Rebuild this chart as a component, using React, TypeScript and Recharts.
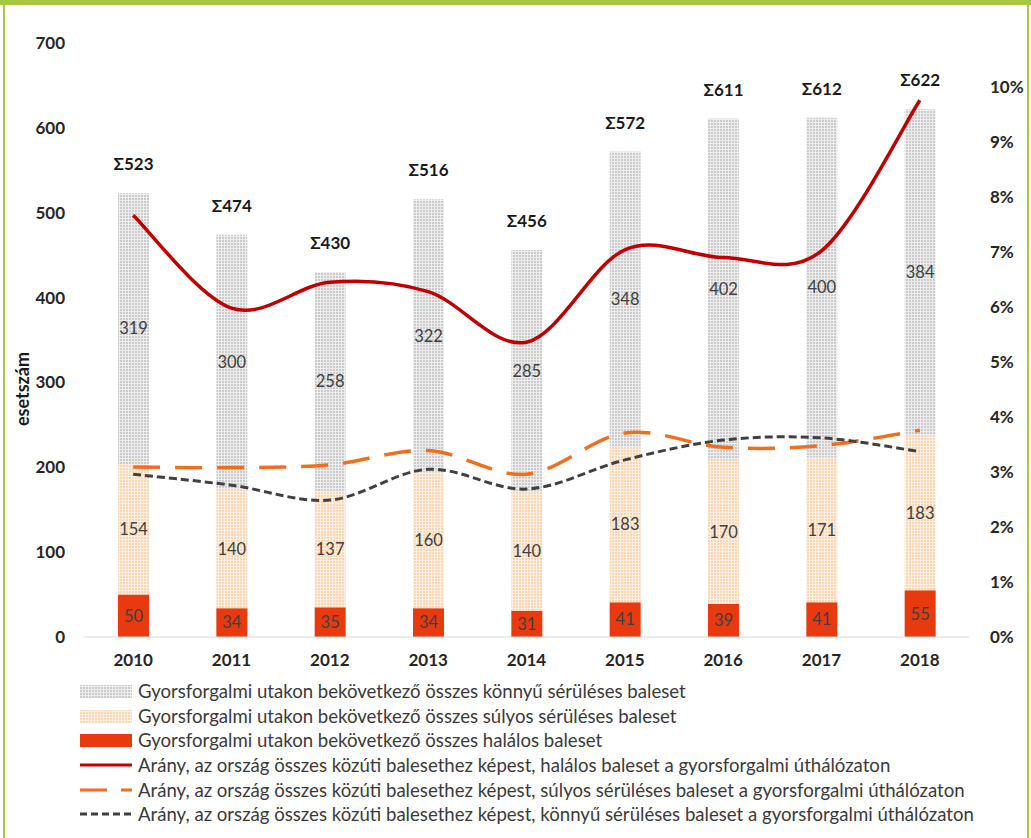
import React from "react";
import {
  ComposedChart,
  Bar,
  Line,
  XAxis,
  YAxis,
  LabelList,
} from "recharts";

const years = ["2010", "2011", "2012", "2013", "2014", "2015", "2016", "2017", "2018"];
const fatal = [50, 34, 35, 34, 31, 41, 39, 41, 55];
const serious = [154, 140, 137, 160, 140, 183, 170, 171, 183];
const light = [319, 300, 258, 322, 285, 348, 402, 400, 384];
const totals = [523, 474, 430, 516, 456, 572, 611, 612, 622];

// ratios, % of all road accidents in the country
const fatalRate = [7.67, 5.98, 6.45, 6.28, 5.36, 7.04, 6.9, 7.02, 9.76];
const seriousRate = [3.09, 3.08, 3.13, 3.39, 2.96, 3.71, 3.45, 3.48, 3.76];
const lightRate = [2.96, 2.76, 2.49, 3.05, 2.69, 3.22, 3.58, 3.62, 3.37];

const leftTicks = [0, 100, 200, 300, 400, 500, 600, 700];
const rightTicks = [0, 1, 2, 3, 4, 5, 6, 7, 8, 9, 10];

const legendNames = [
  "Gyorsforgalmi utakon bekövetkező összes könnyű sérüléses baleset",
  "Gyorsforgalmi utakon bekövetkező összes súlyos sérüléses baleset",
  "Gyorsforgalmi utakon bekövetkező összes halálos baleset",
  "Arány, az ország összes közúti balesethez képest, halálos baleset a gyorsforgalmi úthálózaton",
  "Arány, az ország összes közúti balesethez képest, súlyos sérüléses baleset a gyorsforgalmi úthálózaton",
  "Arány, az ország összes közúti balesethez képest, könnyű sérüléses baleset a gyorsforgalmi úthálózaton",
];

const data = years.map((year, i) => ({
  year,
  fatal: fatal[i],
  serious: serious[i],
  light: light[i],
  total: totals[i],
  fatalRate: fatalRate[i],
  seriousRate: seriousRate[i],
  lightRate: lightRate[i],
}));

const FONT = "Lato, 'Open Sans', sans-serif";
const GREEN = "#a5c83f";
const RED = "#e83a0e";
const DARKRED = "#c00000";
const ORANGE = "#f26d1c";
const DARK = "#404040";

// Excel style smoothed line (cardinal spline through the points)
const excelCurve = (context: any) => {
  let pts: number[][] = [];
  return {
    areaStart() {},
    areaEnd() {},
    lineStart() {
      pts = [];
    },
    point(x: number, y: number) {
      pts.push([+x, +y]);
    },
    lineEnd() {
      if (!pts.length) return;
      context.moveTo(pts[0][0], pts[0][1]);
      for (let i = 0; i < pts.length - 1; i++) {
        const p0 = pts[i - 1] || pts[i];
        const p1 = pts[i];
        const p2 = pts[i + 1];
        const p3 = pts[i + 2] || p2;
        context.bezierCurveTo(
          p1[0] + (p2[0] - p0[0]) / 6,
          p1[1] + (p2[1] - p0[1]) / 6,
          p2[0] - (p3[0] - p1[0]) / 6,
          p2[1] - (p3[1] - p1[1]) / 6,
          p2[0],
          p2[1]
        );
      }
    },
  };
};

const Patterns = () => (
  <defs>
    <pattern id="patLight" width="3" height="3" patternUnits="userSpaceOnUse">
      <rect width="3" height="3" fill="#ededed" />
      <rect width="2" height="2" fill="#cbcbcb" />
    </pattern>
    <pattern id="patSerious" width="3" height="3" patternUnits="userSpaceOnUse">
      <rect width="3" height="3" fill="#fdeedf" />
      <rect width="2" height="2" fill="#f9d6b4" />
    </pattern>
  </defs>
);

const legendIcon = (i: number) => {
  if (i === 0) return <rect x={0} y={4} width={52} height={13} fill="url(#patLight)" />;
  if (i === 1) return <rect x={0} y={4} width={52} height={13} fill="url(#patSerious)" />;
  if (i === 2) return <rect x={0} y={4} width={52} height={13} fill={RED} />;
  if (i === 3) return <line x1={0} x2={52} y1={10} y2={10} stroke={DARKRED} strokeWidth={3} />;
  if (i === 4)
    return (
      <line x1={0} x2={52} y1={10} y2={10} stroke={ORANGE} strokeWidth={3} strokeDasharray="27 14" />
    );
  return <line x1={0} x2={52} y1={10} y2={10} stroke={DARK} strokeWidth={3} strokeDasharray="7 4" />;
};

export default function App() {
  return (
    <div style={{ position: "absolute", left: 0, top: 0, width: 1031, height: 838, background: "#fff", fontFamily: FONT }}>
      <div style={{ position: "absolute", left: 0, top: 0, width: 1031, height: 5, background: GREEN }} />
      <div style={{ position: "absolute", left: 3, top: 0, width: 2, height: 838, background: GREEN }} />
      <div style={{ position: "absolute", left: 1027, top: 0, width: 2, height: 838, background: GREEN }} />

      <div style={{ position: "absolute", left: 0, top: 0 }}>
        <ComposedChart
          width={1031}
          height={680}
          data={data}
          margin={{ top: 43, right: 0, bottom: 3, left: 0 }}
          barSize={31}
        >
          <Patterns />
          <XAxis
            dataKey="year"
            axisLine={{ stroke: "#d9d9d9", strokeWidth: 1 }}
            tickLine={false}
            tickSize={0}
            tickMargin={17}
            height={40}
            tick={{ fill: "#262626", fontSize: 17, fontWeight: 700, fontFamily: FONT }}
          />
          <YAxis
            yAxisId="left"
            domain={[0, 700]}
            ticks={leftTicks}
            width={84}
            axisLine={false}
            tickLine={false}
            tickSize={0}
            tickMargin={19}
            interval={0}
            tick={{ fill: "#262626", fontSize: 17, fontWeight: 700, fontFamily: FONT }}
            label={{
              content: (p: any) => {
                const vb = p.viewBox || { y: 43, height: 594 };
                const cy = vb.y + vb.height / 2 + 49;
                return (
                  <text
                    x={22}
                    y={cy}
                    transform={`rotate(-90 22 ${cy})`}
                    textAnchor="middle"
                    dominantBaseline="central"
                    fontSize={18}
                    fontWeight={700}
                    fill="#1a1a1a"
                    fontFamily={FONT}
                  >
                    esetszám
                  </text>
                );
              },
            }}
          />
          <YAxis
            yAxisId="right"
            orientation="right"
            domain={[0, 10.8]}
            ticks={rightTicks}
            width={62}
            axisLine={false}
            tickLine={false}
            tickSize={0}
            tickMargin={21}
            interval={0}
            tickFormatter={(v: number) => `${v}%`}
            tick={{ fill: "#262626", fontSize: 17, fontWeight: 700, fontFamily: FONT, textAnchor: "start" }}
          />
          <Bar dataKey="fatal" stackId="a" yAxisId="left" fill={RED} isAnimationActive={false}>
            <LabelList dataKey="fatal" position="center" fill={DARK} fontSize={16.5} fontFamily={FONT} />
          </Bar>
          <Bar dataKey="serious" stackId="a" yAxisId="left" fill="url(#patSerious)" isAnimationActive={false}>
            <LabelList dataKey="serious" position="center" fill={DARK} fontSize={16.5} fontFamily={FONT} />
          </Bar>
          <Bar dataKey="light" stackId="a" yAxisId="left" fill="url(#patLight)" isAnimationActive={false}>
            <LabelList dataKey="light" position="center" fill={DARK} fontSize={16.5} fontFamily={FONT} />
            <LabelList
              dataKey="total"
              position="top"
              offset={23}
              formatter={(v: any) => `Σ${v}`}
              fill="#1a1a1a"
              fontSize={17}
              fontWeight={700}
              fontFamily={FONT}
            />
          </Bar>
          <Line
            yAxisId="right"
            dataKey="fatalRate"
            type={excelCurve as any}
            stroke={DARKRED}
            strokeWidth={3.5}
            dot={false}
            activeDot={false}
            isAnimationActive={false}
          />
          <Line
            yAxisId="right"
            dataKey="seriousRate"
            type={excelCurve as any}
            stroke={ORANGE}
            strokeWidth={3.5}
            strokeDasharray="27 15"
            dot={false}
            activeDot={false}
            isAnimationActive={false}
          />
          <Line
            yAxisId="right"
            dataKey="lightRate"
            type={excelCurve as any}
            stroke={DARK}
            strokeWidth={3}
            strokeDasharray="8 4"
            dot={false}
            activeDot={false}
            isAnimationActive={false}
          />
        </ComposedChart>
      </div>

      <div style={{ position: "absolute", left: 80, top: 679 }}>
        {legendNames.map((name, i) => (
          <div key={name} style={{ display: "flex", alignItems: "center", height: 24.6 }}>
            <svg width={52} height={20} style={{ marginRight: 6, flex: "none" }}>
              {legendIcon(i)}
            </svg>
            <span style={{ fontSize: 18.6, color: "#3a3a3a", whiteSpace: "nowrap", fontFamily: FONT }}>{name}</span>
          </div>
        ))}
      </div>
    </div>
  );
}
